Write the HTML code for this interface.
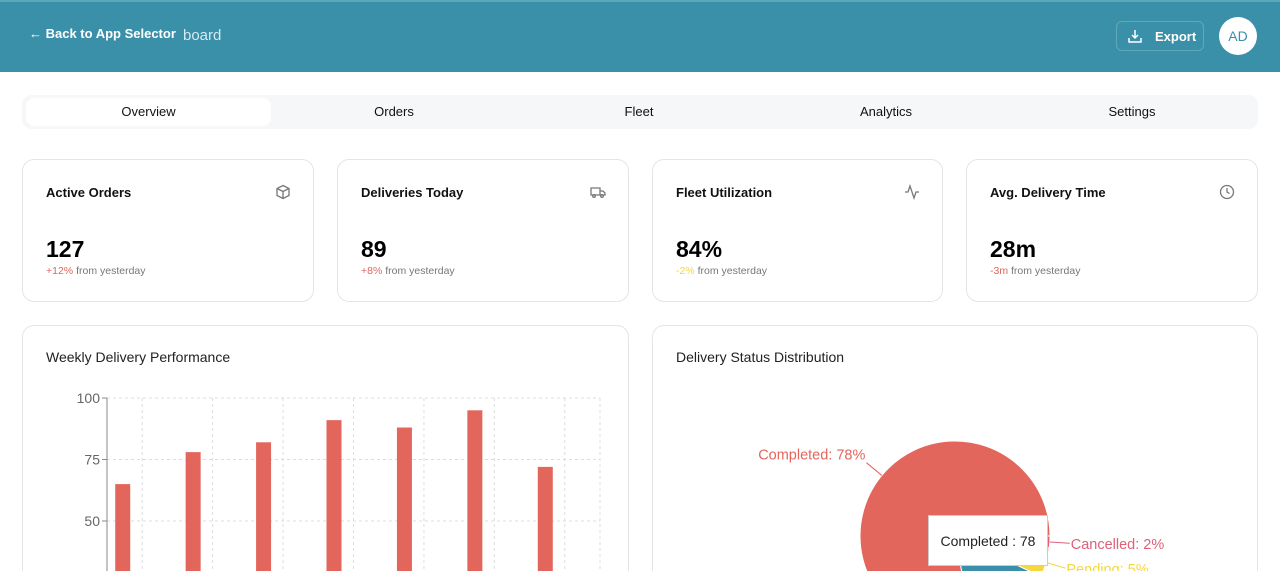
<!DOCTYPE html>
<html><head><meta charset="utf-8"><style>
*{box-sizing:border-box;margin:0;padding:0}
html,body{width:1280px;height:571px;overflow:hidden}
body{background:#fff;font-family:"Liberation Sans",sans-serif;position:relative}
#wrap{position:absolute;left:0;top:0;width:1280px;height:571px;overflow:hidden}
.hdr{position:absolute;left:0;top:0;width:1280px;height:72px;background:#3a90a8;border-top:2px solid #5aa6ba}
.abs{position:absolute}
.tabs{left:22px;top:95px;width:1236px;height:34px;background:#f6f7f9;border-radius:10px}
.tab{position:absolute;top:0;height:34px;line-height:33px;text-align:center;font-size:13px;color:#111;width:246px}
.card{position:absolute;top:159px;height:143px;border:1px solid #e3e5e8;border-radius:12px;background:#fff}
.card .t{position:absolute;left:23px;top:25px;font-size:13px;font-weight:bold;color:#111}
.card .v{position:absolute;left:23px;top:76px;font-size:23px;font-weight:bold;color:#000}
.card .s{position:absolute;left:23px;top:105px;font-size:10.5px;color:#777}
.card .i{position:absolute;right:22px;top:24px;width:16px;height:16px}
.big{position:absolute;top:325px;height:260px;border:1px solid #e3e5e8;border-radius:12px;background:#fff}
.big .t{position:absolute;left:23px;top:23px;font-size:14px;color:#222}
</style></head><body>
<div id="wrap">
<div class="hdr"></div>
<div class="abs" style="left:29px;top:26px;font-size:13px;font-weight:bold;color:#fff">← Back to App Selector</div>
<div class="abs" style="left:183px;top:27px;font-size:15px;color:#d6e9ee">board</div>
<div class="abs" style="left:1116px;top:21px;width:88px;height:30px;border:1px solid #62a8bb;border-radius:6px;color:#fff;font-size:13px;font-weight:bold;line-height:29px;padding-left:38px">Export
<svg class="abs" style="left:11px;top:7px" width="14" height="14" viewBox="0 0 14 14" fill="none" stroke="#fff" stroke-width="1.5"><path d="M7 1v8M4 6l3 3 3-3M1 9v4h12V9"/></svg></div>
<div class="abs" style="left:1219px;top:17px;width:38px;height:38px;border-radius:50%;background:#fff;color:#3a90a8;font-size:14px;text-align:center;line-height:38px">AD</div>

<div class="abs tabs">
<div class="tab" style="left:4px;top:3px;height:28px;line-height:27px;background:#fff;border-radius:8px;width:245px">Overview</div>
<div class="tab" style="left:249px">Orders</div>
<div class="tab" style="left:494px">Fleet</div>
<div class="tab" style="left:741px">Analytics</div>
<div class="tab" style="left:987px">Settings</div>
</div>

<div class="card" style="left:22px;width:292px"><div class="t">Active Orders</div>
<svg class="i" viewBox="0 0 16 16" fill="none" stroke="#777" stroke-width="1.3"><path d="M8 1.5l6 3v7l-6 3-6-3v-7z M2 4.5l6 3 6-3 M8 7.5v7"/></svg>
<div class="v">127</div><div class="s"><span style="color:#e0655c">+12%</span> from yesterday</div></div>
<div class="card" style="left:337px;width:292px"><div class="t">Deliveries Today</div>
<svg class="i" viewBox="0 0 16 16" fill="none" stroke="#777" stroke-width="1.3"><path d="M1 4h9v7H1z M10 7h3l2 2v2h-5"/><circle cx="4" cy="12" r="1.3"/><circle cx="12" cy="12" r="1.3"/></svg>
<div class="v">89</div><div class="s"><span style="color:#e0655c">+8%</span> from yesterday</div></div>
<div class="card" style="left:652px;width:291px"><div class="t">Fleet Utilization</div>
<svg class="i" viewBox="0 0 16 16" fill="none" stroke="#777" stroke-width="1.3"><path d="M1 8h3l2-6 4 12 2-6h3"/></svg>
<div class="v">84%</div><div class="s"><span style="color:#f5d742">-2%</span> from yesterday</div></div>
<div class="card" style="left:966px;width:292px"><div class="t">Avg. Delivery Time</div>
<svg class="i" viewBox="0 0 16 16" fill="none" stroke="#777" stroke-width="1.3"><circle cx="8" cy="8" r="6.5"/><path d="M8 4v4l2.5 1.5"/></svg>
<div class="v">28m</div><div class="s"><span style="color:#e0655c">-3m</span> from yesterday</div></div>

<div class="big" style="left:22px;width:607px"><div class="t">Weekly Delivery Performance</div></div>
<div class="big" style="left:652px;width:606px"><div class="t">Delivery Status Distribution</div></div>

<svg class="abs" style="left:0;top:0" width="1280" height="571" id="charts"></svg>
<div class="abs" style="left:928px;top:515px;width:120px;height:51px;background:#fff;border:1px solid #ccc;font-size:14px;color:#222;line-height:50px;text-align:center">Completed : 78</div>
</div>
<script>
const days=["Mon","Tue","Wed","Thu","Fri","Sat","Sun"];
const deliveries=[65,78,82,91,88,95,72];
const yTicks=[0,25,50,75,100];
const statusNames=["Completed","In Transit","Pending","Cancelled"];
const statusValues=[78,15,5,2];
const statusColors=["#e3665c","#3a90a8","#f5d742","#e0607a"];

const NS="http://www.w3.org/2000/svg";
const svg=document.getElementById('charts');
function mk(tag,attrs,parent){const e=document.createElementNS(NS,tag);for(const k in attrs)e.setAttribute(k,attrs[k]);(parent||svg).appendChild(e);return e;}
const x0=107,x1=600,yTop=398,yBot=644,yMax=100;
const band=(x1-x0)/days.length;
const yS=v=>yBot-(v/yMax)*(yBot-yTop);
const xC=i=>x0+band*(i+0.5);
yTicks.forEach(t=>{
  const l=mk('line',{x1:x0,x2:x1,y1:yS(t),y2:yS(t),stroke:'#ddd','stroke-dasharray':'3 3'});
  
  
  const tk=mk('line',{x1:x0-5,x2:x0,y1:yS(t),y2:yS(t),stroke:'#888'});
  
  
  const tx=mk('text',{x:x0-7,y:yS(t)+5,'text-anchor':'end','font-size':14,fill:'#666','font-family':'Liberation Sans, sans-serif'});
  tx.textContent=t;
  
  
});
days.forEach((d,i)=>{
  const l=mk('line',{x1:xC(i),x2:xC(i),y1:yTop,y2:yBot,stroke:'#ddd','stroke-dasharray':'3 3'});
  
  
});
const lr=mk('line',{x1:x1,x2:x1,y1:yTop,y2:yBot,stroke:'#ddd','stroke-dasharray':'3 3'});


const ax=mk('line',{x1:x0,x2:x0,y1:yTop,y2:yBot,stroke:'#888'});


deliveries.forEach((v,i)=>{
  const b=mk('rect',{x:xC(i)-27,y:yS(v),width:15,height:yBot-yS(v),fill:'#e3665c'});
  
  
});
const cx=955,cy=536,r=95;
const total=statusValues.reduce((a,b)=>a+b,0);
let ang=0;
statusValues.forEach((v,i)=>{
  const a0=ang,a1=ang+v/total*360;ang=a1;
  const p=a=>[cx+r*Math.cos(-a*Math.PI/180),cy+r*Math.sin(-a*Math.PI/180)];
  const s=p(a0),e=p(a1),large=(a1-a0)>180?1:0;
  const path=mk('path',{d:`M${cx},${cy}L${s[0]},${s[1]}A${r},${r} 0 ${large} 0 ${e[0]},${e[1]}Z`,fill:statusColors[i],stroke:'#fff','stroke-width':1});
  
  
  const m=(a0+a1)/2*Math.PI/180,c=Math.cos(-m),sn=Math.sin(-m);
  const sx=cx+r*c,sy=cy+r*sn,mx=cx+(r+20)*c,my=cy+(r+20)*sn;
  const ln=mk('path',{d:`M${sx},${sy}L${mx},${my}`,stroke:statusColors[i],fill:'none'});
  
  
  const t=mk('text',{x:mx+(c>=0?1:-1),y:my+(sn<0?-3:6),'text-anchor':c>=0?'start':'end','font-size':14.5,fill:statusColors[i],'font-family':'Liberation Sans, sans-serif'});
  t.textContent=statusNames[i]+': '+Math.round(v/total*100)+'%';
  
  
});
</script>
</body></html>
